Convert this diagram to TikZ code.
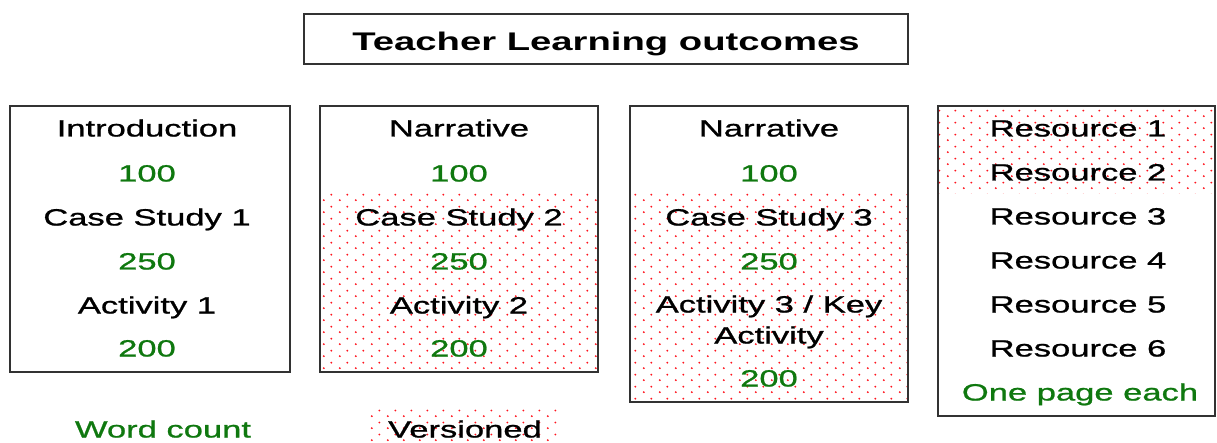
\documentclass[tikz,border=0pt]{standalone}
\usepackage{fontspec}
\setmainfont{Liberation Sans}[FakeStretch=1.5]
\newfontfamily\entryfont{Liberation Sans}[FakeStretch=1.47,FakeBold=1]
\usetikzlibrary{patterns}

\definecolor{countgreen}{RGB}{15,120,15}
\definecolor{dotred}{RGB}{255,20,30}
\definecolor{boxline}{RGB}{50,50,50}

\pgfdeclarepatternformonly{reddots}{\pgfpointorigin}{\pgfpoint{16pt}{12pt}}{\pgfpoint{16pt}{12pt}}{
  \pgfpathcircle{\pgfpoint{4pt}{3pt}}{1.1pt}
  \pgfpathcircle{\pgfpoint{12pt}{9pt}}{1.1pt}
  \pgfusepath{fill}}

\tikzstyle{panel}=[draw=boxline,line width=1.5pt,inner sep=0pt]
\tikzstyle{entry}=[inner sep=0pt,text height=17pt,text depth=0pt,font=\entryfont\fontsize{23.5}{28}\selectfont]
\tikzstyle{count}=[entry,text=countgreen]
\tikzstyle{versioned}=[pattern=reddots,pattern color=dotred]

\begin{document}
\begin{tikzpicture}[x=1pt,y=-1pt]
          \useasboundingbox (0,0) rectangle (1217,443);
          \def\rowgap{44}

          % versioned parts
          \fill[versioned] (320,194) rectangle (598,372);
          \fill[versioned] (630,194) rectangle (908,402);
          \fill[versioned] (938,106) rectangle (1215,194);
          \fill[versioned] (368,406) rectangle (560,443);

          \node[panel,minimum width=604pt,minimum height=50pt,text height=23pt,text depth=0pt,
                font=\bfseries\fontsize{25.5}{30}\selectfont] (title) at (606,39) {Teacher Learning outcomes};

          \node[panel,minimum width=280pt,minimum height=266pt] (intro) at (150,239) {};
          \node[panel,minimum width=278pt,minimum height=266pt] (narr2) at (459,239) {};
          \node[panel,minimum width=278pt,minimum height=296pt] (narr3) at (769,254) {};
          \node[panel,minimum width=277pt,minimum height=310pt] (res) at (1076.5,261) {};

          \foreach \t/\y/\s [count=\i] in {Introduction/128/entry, 100/173/count, Case Study 1/217/entry,
                                           250/261/count, Activity 1/305/entry, 200/348/count}
            \node[\s] (intro\i) at (147,\y) {\t};

          \foreach \t/\y/\s [count=\i] in {Narrative/128/entry, 100/173/count, Case Study 2/217/entry,
                                           250/261/count, Activity 2/305/entry, 200/348/count}
            \node[\s] (narrtwo\i) at (459,\y) {\t};

          \foreach \t/\y/\s [count=\i] in {Narrative/128/entry, 100/173/count, Case Study 3/217/entry,
                                           250/261/count}
            \node[\s] (narrthree\i) at (769,\y) {\t};
          \node[entry] (narrthree5) at (769,304) {Activity 3 / Key};
          \node[entry] (narrthree6) at (769,335) {Activity};
          \node[count] (narrthree7) at (769,378) {200};

          \foreach \i in {1,...,6}
            \node[entry] (res\i) at (1078,128+\rowgap*\i-\rowgap) {Resource \i};
          \node[count] (res7) at (1080,392) {One page each};

          % key
          \node[count] (wordcount) at (163,429) {Word count};
          \node[entry] (versionedkey) at (465,429) {Versioned};
        \end{tikzpicture}
\end{document}
